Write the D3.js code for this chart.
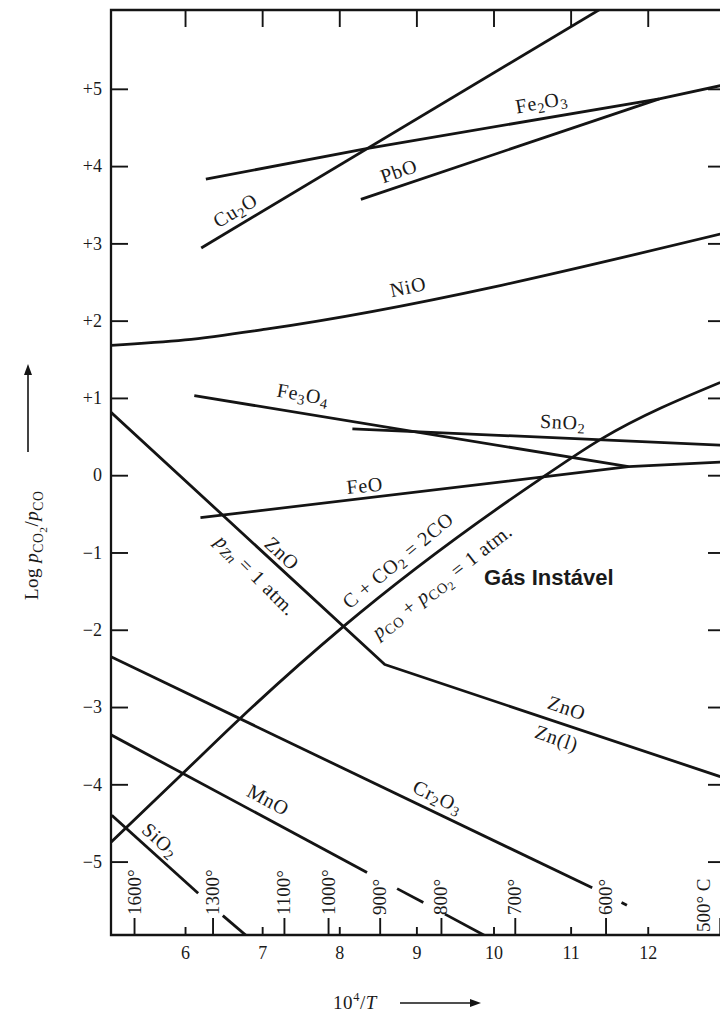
<!DOCTYPE html>
<html><head><meta charset="utf-8">
<script src="https://cdn.jsdelivr.net/npm/d3@7"></script>
<style>
html,body{margin:0;padding:0;background:#fff;}
svg{display:block;}
text{font-family:"Liberation Serif","Times New Roman",serif;fill:#1a1a1a;}
</style></head><body>
<svg id="c" width="720" height="1016"></svg>
<script>
// ---------- data ----------
const xTicks = [6,7,8,9,10,11,12];
const xTickLabels = ["6","7","8","9","10","11","12"];
const yTicks = [-5,-4,-3,-2,-1,0,1,2,3,4,5];
const yTickLabels = ["\u22125","\u22124","\u22123","\u22122","\u22121","0","+1","+2","+3","+4","+5"];
const tempTicks = [1600,1300,1100,1000,900,800,700,600,500];
const tempLabels = ["1600°","1300°","1100°","1000°","900°","800°","700°","600°","500° C"];

const cu2o = [[6.21,2.94],[11.45,6.07]];
const fe2o3 = [[6.27,3.83],[8.37,4.23],[12.15,4.87],[12.94,5.04]];
const pbo = [[8.28,3.57],[12.15,4.87]];
const nio = [[5.04,1.68],[6.0,1.75],[7.05,1.89],[12.94,3.12]];
const fe3o4 = [[6.12,1.03],[11.75,0.11]];
const feo = [[6.20,-0.55],[11.75,0.11],[12.94,0.17]];
const sno2 = [[8.17,0.60],[12.94,0.39]];
const boudouard = [[5.04,-4.75],[5.97,-3.86],[6.69,-3.17],[8.04,-1.97],[10.59,-0.06],[11.40,0.47],[12.94,1.20]];
const zno = [[5.04,0.815],[8.59,-2.45],[12.94,-3.90]];
const cr2o3 = [[5.04,-2.35],[11.28,-5.34]];
const cr2o3Dash = [[11.66,-5.53],[11.73,-5.565]];
const mno = [[5.04,-3.36],[8.36,-5.14]];
const mnoDash1 = [[8.75,-5.35],[9.09,-5.53]];
const mnoDash2 = [[9.37,-5.68],[9.93,-5.98]];
const sio2 = [[5.05,-4.40],[6.17,-5.41]];
const sio2Dash = [[6.49,-5.70],[6.82,-5.98]];

const straightSeries = [cu2o, fe2o3, pbo, fe3o4, feo, sno2, zno, cr2o3, cr2o3Dash, mno, mnoDash1, mnoDash2, sio2, sio2Dash];
const curvedSeries = [nio, boudouard];

// labels: parts = [text, level(0 normal,1 sub,2 subsub,-1 sup), italic]
const chemLabels = [
  {parts:[["Fe",0],["2",1],["O",0],["3",1]], x:10.62, y:4.83, rot:-10},
  {parts:[["PbO",0]], x:8.77, y:3.94, rot:-19},
  {parts:[["Cu",0],["2",1],["O",0]], x:6.65, y:3.43, rot:-31},
  {parts:[["NiO",0]], x:8.89, y:2.44, rot:-12},
  {parts:[["Fe",0],["3",1],["O",0],["4",1]], x:7.53, y:1.05, rot:10},
  {parts:[["SnO",0],["2",1]], x:10.90, y:0.69, rot:3},
  {parts:[["FeO",0]], x:8.33, y:-0.13, rot:-6},
  {parts:[["ZnO",0]], x:7.26, y:-1.01, rot:43},
  {parts:[["p",0,1],["Zn",1,1],["  =  1 atm.",0]], x:6.92, y:-1.29, rot:45},
  {parts:[["C + CO",0],["2",1],[" = 2CO",0]], x:8.76, y:-1.10, rot:-40},
  {parts:[["p",0,1],["CO",1],["  + ",0],["p",0,1],["CO",1],["2",2],["  = 1 atm.",0]], x:9.33, y:-1.37, rot:-38},
  {parts:[["ZnO",0]], x:10.95, y:-3.01, rot:19},
  {parts:[["Zn(l)",0]], x:10.82, y:-3.40, rot:19},
  {parts:[["Cr",0],["2",1],["O",0],["3",1]], x:9.28, y:-4.16, rot:26},
  {parts:[["MnO",0]], x:7.08, y:-4.20, rot:28},
  {parts:[["SiO",0],["2",1]], x:5.68, y:-4.72, rot:42}
];
const gasLabel = {text:"Gás Instável", x:9.877, y:-1.42};

// ---------- drawing ----------
const svg = d3.select("#c");
const L=111, R=721, T=10, B=935;
const x = d3.scaleLinear().domain([5.04,12.95]).range([L,R]);
const y = d3.scaleLinear().domain([-5.95,6.02]).range([B,T]);
const ink = "#141414";

svg.append("defs").append("clipPath").attr("id","plot")
  .append("rect").attr("x",L).attr("y",T).attr("width",R-L).attr("height",B-T);

// frame
svg.append("path").attr("d",`M${R+2},${T}H${L}V${B}H${R+2}`)
  .attr("fill","none").attr("stroke",ink).attr("stroke-width",2.3);

const styleAxis = g => {
  g.select(".domain").remove();
  g.selectAll(".tick line").attr("stroke",ink).attr("stroke-width",1.9);
  g.selectAll(".tick text").attr("fill","#1a1a1a")
    .style("font-family","'Liberation Serif','Times New Roman',serif").style("font-size","18px");
};

// left axis
svg.append("g").attr("transform",`translate(${L},0)`)
  .call(d3.axisLeft(y).tickValues(yTicks).tickSize(-17).tickSizeOuter(0).tickPadding(9)
    .tickFormat((d,i)=>yTickLabels[i]))
  .call(styleAxis);
// right axis
svg.append("g").attr("transform",`translate(${R},0)`)
  .call(d3.axisRight(y).tickValues(yTicks).tickSize(-13).tickSizeOuter(0).tickFormat(""))
  .call(styleAxis);
// top axis
svg.append("g").attr("transform",`translate(0,${T})`)
  .call(d3.axisTop(x).tickValues(xTicks).tickSize(-17).tickSizeOuter(0).tickFormat(""))
  .call(styleAxis);
// bottom axis (10^4/T)
svg.append("g").attr("transform",`translate(0,${B})`)
  .call(d3.axisBottom(x).tickValues(xTicks).tickSize(-8).tickSizeOuter(0).tickPadding(11)
    .tickFormat((d,i)=>xTickLabels[i]))
  .call(styleAxis);
// temperature ticks
const tempX = tempTicks.map(t => 1e4/(t+273.15));
svg.append("g").attr("transform",`translate(0,${B})`)
  .call(d3.axisBottom(x).tickValues(tempX).tickSize(-17).tickSizeOuter(0).tickFormat(""))
  .call(styleAxis);
tempX.forEach((v,i)=>{
  const last = i===tempX.length-1;
  const px = last ? 710 : x(v)+6.5;
  const py = last ? 932 : B-20;
  svg.append("text").attr("transform",`translate(${px},${py}) rotate(-90)`)
    .attr("text-anchor","start").style("font-size","19px").text(tempLabels[i]);
});

// series
const plot = svg.append("g").attr("clip-path","url(#plot)");
const lineStraight = d3.line().x(d=>x(d[0])).y(d=>y(d[1]));
const lineCurved = d3.line().x(d=>x(d[0])).y(d=>y(d[1])).curve(d3.curveMonotoneX);
plot.selectAll("path.s").data(straightSeries).join("path").attr("class","s")
  .attr("d",lineStraight).attr("fill","none").attr("stroke",ink)
  .attr("stroke-width",2.8).attr("stroke-linejoin","round");
plot.selectAll("path.c").data(curvedSeries).join("path").attr("class","c")
  .attr("d",lineCurved).attr("fill","none").attr("stroke",ink)
  .attr("stroke-width",2.8);

// rich text helper
function rich(sel, parts, fs){
  const offs = {"0":0,"1":0.28,"2":0.48,"-1":-0.4};
  const sizes = {"0":1,"1":0.72,"2":0.6,"-1":0.65};
  let cur = 0;
  parts.forEach(p=>{
    const t=p[0], lvl=String(p[1]), it=p[2];
    const target = offs[lvl]*fs;
    sel.append("tspan").attr("dy",(target-cur).toFixed(2))
      .style("font-size",(sizes[lvl]*fs).toFixed(1)+"px")
      .style("font-style",it?"italic":"normal").text(t);
    cur = target;
  });
}

chemLabels.forEach(l=>{
  const t = svg.append("text")
    .attr("transform",`translate(${x(l.x)},${y(l.y)}) rotate(${l.rot})`)
    .attr("text-anchor","middle").attr("dominant-baseline","central")
    .style("letter-spacing","0.7px");
  rich(t, l.parts, 20);
});

svg.append("text").attr("x",x(gasLabel.x)).attr("y",y(gasLabel.y))
  .style("font-family","'Liberation Sans',Arial,sans-serif").style("font-weight","bold")
  .style("font-size","22px").attr("fill","#000").text(gasLabel.text);

// y axis title
const yt = svg.append("text").attr("transform","translate(38,600) rotate(-90)")
  .attr("text-anchor","start").style("letter-spacing","0.5px");
rich(yt, [["Log ",0],["p",0,1],["CO",1],["2",2],["/",0],["p",0,1],["CO",1]], 19);
svg.append("line").attr("x1",28).attr("x2",28).attr("y1",452).attr("y2",372)
  .attr("stroke",ink).attr("stroke-width",1.6);
svg.append("path").attr("d","M28,364 L24,375 L32,375 Z").attr("fill",ink);

// x axis title
const xt = svg.append("text").attr("x",333).attr("y",1009).style("letter-spacing","0.6px");
rich(xt, [["10",0],["4",-1],["/",0],["T",0,1]], 19);
svg.append("line").attr("x1",400).attr("x2",472).attr("y1",1003).attr("y2",1003)
  .attr("stroke",ink).attr("stroke-width",1.6);
svg.append("path").attr("d","M481,1003 L470,999 L470,1007 Z").attr("fill",ink);
</script>
</body></html>
